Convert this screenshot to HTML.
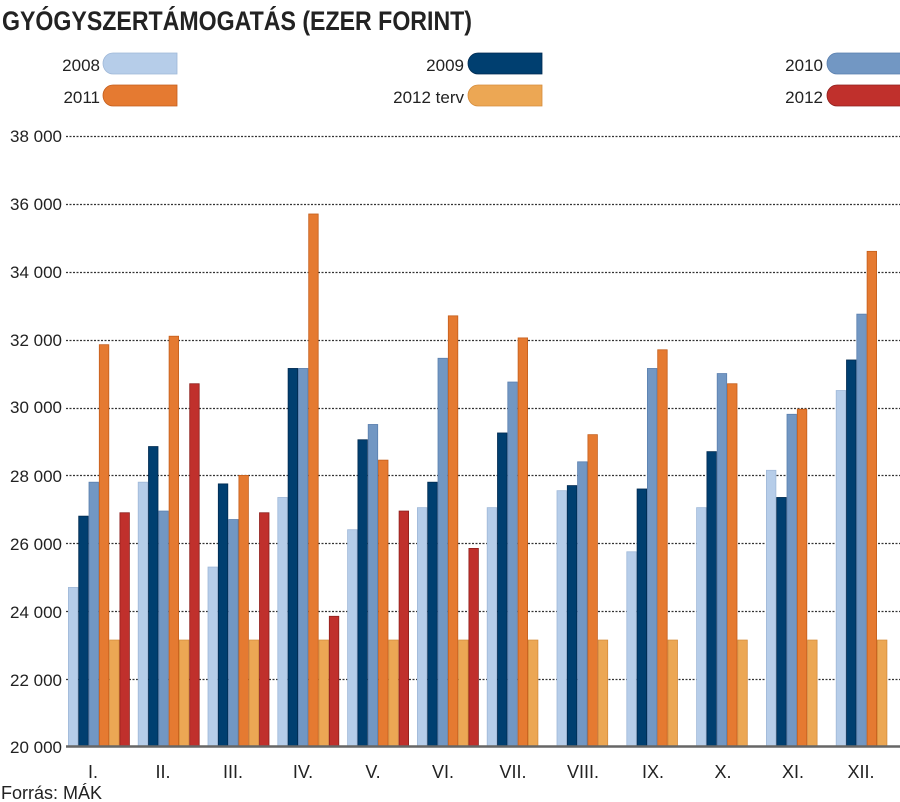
<!DOCTYPE html>
<html><head><meta charset="utf-8"><style>
body{margin:0;background:#fff;}
svg{display:block;font-family:"Liberation Sans Narrow","Liberation Sans",sans-serif;}
</style></head><body>
<svg id="s" width="900" height="802" viewBox="0 0 900 802">
<text x="2" y="30" font-size="27" font-weight="bold" fill="#222" textLength="470" lengthAdjust="spacingAndGlyphs">GYÓGYSZERTÁMOGATÁS (EZER FORINT)</text>
<g font-size="17" fill="#222" text-anchor="end">
<text x="100" y="71">2008</text><text x="100" y="103">2011</text>
<text x="464" y="71">2009</text><text x="464" y="103">2012 terv</text>
<text x="823" y="71">2010</text><text x="823" y="103">2012</text>
</g>
<g id="leg"></g>
<g font-size="17" fill="#222" text-anchor="end">
<text x="62" y="142">38 000</text><text x="62" y="210">36 000</text><text x="62" y="278">34 000</text>
<text x="62" y="346">32 000</text><text x="62" y="413">30 000</text><text x="62" y="482">28 000</text>
<text x="62" y="550">26 000</text><text x="62" y="618">24 000</text><text x="62" y="686">22 000</text>
<text x="62" y="753">20 000</text>
</g>
<g id="grid"></g>
<g id="bars"></g>
<line x1="66" y1="746.5" x2="900" y2="746.5" stroke="#666" stroke-width="2.5"/>
<g font-size="18" fill="#222" text-anchor="middle">
<text x="93" y="778">I.</text><text x="163" y="778">II.</text><text x="233" y="778">III.</text>
<text x="303" y="778">IV.</text><text x="373" y="778">V.</text><text x="443" y="778">VI.</text>
<text x="513" y="778">VII.</text><text x="583" y="778">VIII.</text><text x="653" y="778">IX.</text>
<text x="723" y="778">X.</text><text x="793" y="778">XI.</text><text x="861" y="778">XII.</text>
</g>
<text x="1" y="799" font-size="18" fill="#222">Forrás: MÁK</text>
</svg>
<script>
var ns="http://www.w3.org/2000/svg",C=["#b6cde9","#003f70","#7297c3","#e57a31","#eca754","#c0302c"],
S=["#9fb8d8","#002a50","#5a7fae","#c45e1c","#d58d3c","#8e1f1c"];
function el(p,t,a){var e=document.createElementNS(ns,t);for(var k in a)e.setAttribute(k,a[k]);p.appendChild(e);return e;}
var leg=document.getElementById("leg");
[[103,53,0],[468,53,1],[827,53,2],[103,85,3],[468,85,4],[827,85,5]].forEach(function(l){
 el(leg,"path",{d:"M"+(l[0]+10)+","+l[1]+"h"+(74-10)+"v21h-"+(74-10)+"a10,10.5 0 0 1 0,-21z",fill:C[l[2]],stroke:S[l[2]],"stroke-width":0.8});
});
var g=document.getElementById("grid");
for(var i=1;i<=9;i++){var y=Math.round(747-i*67.9)+0.5;el(g,"line",{x1:66,y1:y,x2:900,y2:y,stroke:"#333","stroke-width":1.3,"stroke-dasharray":"2,1.5"});}
var D=[[24700,26800,27800,31850,23150,26900],[27800,28850,26950,32100,23150,30700],[25300,27750,26700,28000,23150,26900],
[27350,31150,31150,35700,23150,23850],[26400,29050,29500,28450,23150,26950],[27050,27800,31450,32700,23150,25850],
[27050,29250,30750,32050,23150,0],[27550,27700,28400,29200,23150,0],[25750,27600,31150,31700,23150,0],
[27050,28700,31000,30700,23150,0],[28150,27350,29800,29950,23150,0],[30500,31400,32750,34600,23150,0]];
var b=document.getElementById("bars");
D.forEach(function(r,gi){r.forEach(function(v,j){if(!v)return;var x=68+gi*69.8+j*10.3,y=747-(v-20000)/2000*67.9;
 el(b,"rect",{x:x+0.4,y:y,width:9.5,height:747-y,fill:C[j],stroke:S[j],"stroke-width":0.8});});});
</script>
</body></html>
